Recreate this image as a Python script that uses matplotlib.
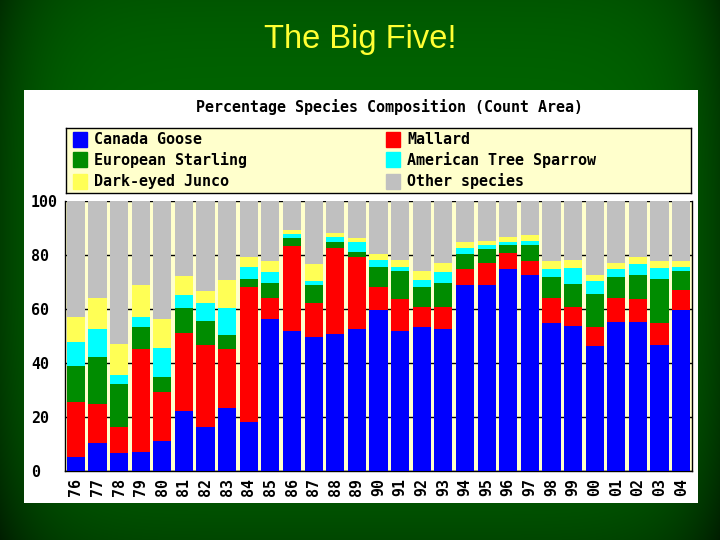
import numpy as np
import matplotlib.pyplot as plt

# Jahre (Zählgebiet), Anteile in Prozent
years = ['76', '77', '78', '79', '80', '81', '82', '83', '84', '85', '86', '87', '88', '89', '90',
         '91', '92', '93', '94', '95', '96', '97', '98', '99', '00', '01', '02', '03', '04']
canada_goose = [5.2, 10.4, 6.7, 7.0, 11.2, 22.3, 16.3, 23.3, 18.3, 56.3, 51.9, 49.6, 50.7, 52.6, 59.6,
                51.9, 53.3, 52.6, 68.9, 68.9, 74.8, 72.6, 54.8, 53.7, 46.3, 55.2, 55.2, 46.7, 59.6]
mallard = [20.4, 14.5, 9.6, 38.2, 18.2, 28.8, 30.4, 21.9, 49.8, 7.8, 31.4, 12.6, 31.9, 26.7, 8.5,
           11.8, 7.4, 8.1, 5.9, 8.1, 5.9, 5.2, 9.3, 7.0, 7.0, 8.9, 8.5, 8.1, 7.4]
starling = [13.3, 17.3, 15.9, 8.1, 5.4, 9.3, 8.9, 5.2, 3.0, 5.5, 3.0, 6.7, 2.2, 1.8, 7.5,
            10.4, 7.4, 8.9, 5.6, 5.2, 3.0, 5.9, 7.8, 8.6, 12.3, 7.8, 8.9, 16.3, 7.1]
tree_sparrow = [8.9, 10.5, 3.5, 3.7, 10.9, 4.8, 6.6, 10.0, 4.5, 4.1, 1.5, 1.5, 1.9, 3.7, 2.5,
                1.5, 2.6, 4.1, 2.2, 1.5, 1.1, 1.5, 2.9, 5.9, 4.8, 2.9, 4.1, 4.1, 1.5]
junco = [9.2, 11.4, 11.3, 11.9, 10.6, 7.0, 4.5, 10.3, 3.7, 4.1, 1.5, 6.3, 1.4, 1.5, 2.3,
         2.5, 3.4, 3.3, 2.2, 1.5, 1.9, 2.2, 3.0, 2.9, 2.2, 2.2, 2.6, 2.6, 2.2]
other = list(100 - np.array(canada_goose) - np.array(mallard) - np.array(starling)
             - np.array(tree_sparrow) - np.array(junco))

names = ['Canada Goose', 'Mallard', 'European Starling', 'American Tree Sparrow',
         'Dark-eyed Junco', 'Other species']
colors = ['#0000FF', '#FF0000', '#008C00', '#00FFFF', '#FFFF55', '#C0C0C0']
series = [canada_goose, mallard, starling, tree_sparrow, junco, other]

mono = {'family': 'DejaVu Sans Mono', 'weight': 'bold', 'size': 10.8}

fig = plt.figure(figsize=(7.2, 5.4), dpi=100)

# grüner Folienhintergrund mit dunkleren Rändern
bg = fig.add_axes([0, 0, 1, 1], zorder=0)
u, v = np.meshgrid(np.linspace(-1, 1, 720), np.linspace(-1, 1, 540))
shade = 0.40 - 0.16 * np.abs(u) ** 8 - 0.06 * np.abs(v) ** 4 - 0.06 * (v > 0) * v ** 2
img = np.dstack([np.zeros_like(shade), shade, np.zeros_like(shade)])
bg.imshow(img, aspect='auto', extent=[0, 1, 0, 1], origin='upper')
bg.axis('off')
fig.text(0.5, 0.926, 'The Big Five!', color='#FFFF33', fontsize=23.5,
         family='Liberation Sans', ha='center', va='center', zorder=5)

# weißes Bild
panel = fig.add_axes([0.0333, 0.0685, 0.9361, 0.7648], zorder=1)
panel.set_facecolor('white')
panel.set_xticks([])
panel.set_yticks([])
for s in panel.spines.values():
    s.set_visible(False)

fig.text(0.541, 0.8019, 'Percentage Species Composition (Count Area)', ha='center', va='center',
         zorder=5, **mono)

# Legende
leg = fig.add_axes([0.0917, 0.6426, 0.868, 0.1204], zorder=2)
leg.set_facecolor('#FFFFCC')
leg.set_xlim(0, 1)
leg.set_ylim(0, 1)
leg.set_xticks([])
leg.set_yticks([])
for s in leg.spines.values():
    s.set_color('black')
    s.set_linewidth(1)
rows = [0.83, 0.51, 0.18]
for i, (name, color) in enumerate(zip(names, colors)):
    col = i % 2
    row = rows[i // 2]
    x0 = 0.011 if col == 0 else 0.512
    leg.add_patch(plt.Rectangle((x0, row - 0.115), 0.022, 0.23, color=color))
    leg.text(x0 + 0.034, row, name, va='center', ha='left', **mono)

# Diagramm
ax = fig.add_axes([0.0903, 0.1278, 0.8708, 0.5], zorder=2)
x = np.arange(len(years))
bottom = np.zeros(len(years))
for vals, color in zip(series, colors):
    ax.bar(x, vals, 0.84, bottom=bottom, color=color, zorder=3)
    bottom += np.array(vals)

ax.set_facecolor('#FFFFCC')
ax.set_xlim(-0.5, len(years) - 0.5)
ax.set_ylim(0, 100)
ax.set_yticks(range(0, 101, 20))
ax.set_xticks(x)
ax.set_xticklabels(years, rotation=90, **mono)
ax.set_yticklabels([str(t) for t in range(0, 101, 20)], **mono)
for lbl in ax.get_yticklabels():
    lbl.set_horizontalalignment('left')
ax.tick_params(axis='y', length=0, pad=24.5)
ax.tick_params(axis='x', length=0, pad=5)
ax.grid(axis='y', color='black', linewidth=1)
ax.set_axisbelow(True)
ax.spines['top'].set_visible(False)
for s in ['left', 'right', 'bottom']:
    ax.spines[s].set_color('black')
    ax.spines[s].set_linewidth(1)

plt.savefig('out.png', dpi=100)
